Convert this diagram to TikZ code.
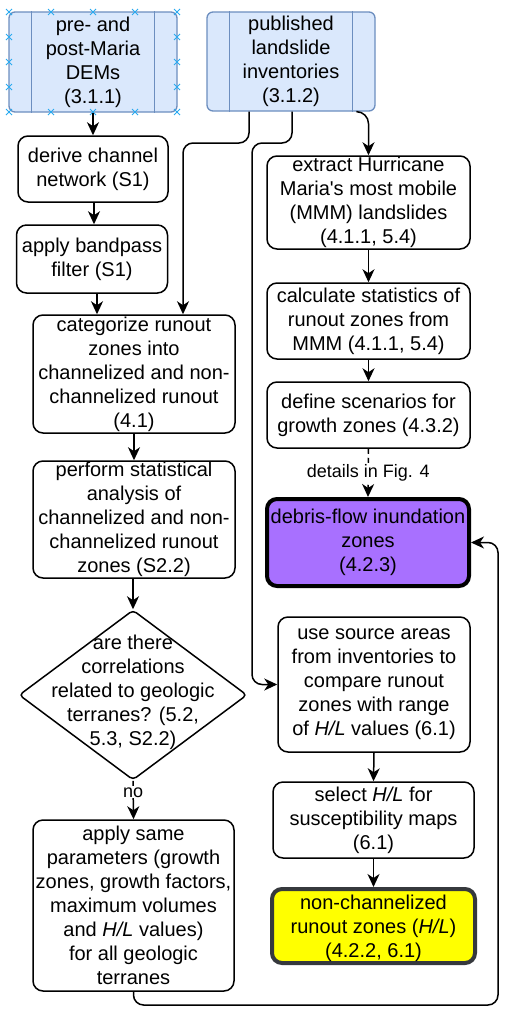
\documentclass[tikz,border=0pt]{standalone}
\usepackage{fontspec}
\setmainfont{Liberation Sans}
\usetikzlibrary{arrows.meta,shapes.geometric}
\definecolor{procfill}{HTML}{DAE8FC}
\definecolor{procline}{HTML}{6C8EBF}
\definecolor{handle}{RGB}{41,170,240}
\definecolor{purplefill}{RGB}{168,112,255}
\definecolor{yellowfill}{RGB}{255,255,0}
\definecolor{darkline}{HTML}{36393D}
\tikzset{
  box/.style={draw=black, line width=1.5pt, rounded corners=10pt, fill=white, inner sep=0pt},
  proc/.style={draw=procline, fill=procfill, line width=1.3pt, rounded corners=6pt, inner sep=0pt},
  txt/.style={align=center, inner sep=0pt, font=\fontsize{20}{24}\selectfont},
  lbl/.style={fill=white, inner sep=1pt, font=\fontsize{18}{21}\selectfont},
  arr/.style={line width=1.5pt, -{Stealth[length=13pt,width=12pt,inset=4pt]}},
  mk/.style={draw=handle, line width=0.9pt},
}
\begin{document}
\begin{tikzpicture}[x=1pt,y=-1pt]
\useasboundingbox (0,0) rectangle (504,1009);

% data sources
\node[proc, minimum width=168pt, minimum height=100pt] (dem) at (93,62) {};
\node[proc, minimum width=168pt, minimum height=99pt] (inv) at (291,61.5) {};
\foreach \n in {dem,inv} {
  \draw[procline, line width=1.3pt] ([xshift=23pt]\n.north west) -- ([xshift=23pt]\n.south west);
  \draw[procline, line width=1.3pt] ([xshift=-23pt]\n.north east) -- ([xshift=-23pt]\n.south east);
}
\node[txt] at (dem) {pre- and\\post-Maria\\DEMs\\(3.1.1)};
\node[txt] at (inv) {published\\landslide\\inventories\\(3.1.2)};

% selection handles round the DEM box
\foreach \x in {9,51,93,135,177} {
  \draw[mk] (\x,12) +(-3,-3) -- +(3,3) +(-3,3) -- +(3,-3);
  \draw[mk] (\x,112) +(-3,-3) -- +(3,3) +(-3,3) -- +(3,-3);
}
\foreach \y in {37,62,87} {
  \draw[mk] (9,\y) +(-3,-3) -- +(3,3) +(-3,3) -- +(3,-3);
  \draw[mk] (177,\y) +(-3,-3) -- +(3,3) +(-3,3) -- +(3,-3);
}

% left column
\node[box, minimum width=150pt, minimum height=66pt] (der) at (93,169) {};
\node[txt] at (der) {derive channel\\network (S1)};
\node[box, minimum width=151pt, minimum height=68pt] (bp) at (92,259) {};
\node[txt] at (bp) {apply bandpass\\filter (S1)};
\node[box, minimum width=202pt, minimum height=118pt] (cat) at (134,374) {};
\node[txt] at (cat) {categorize runout\\zones into\\channelized and non-\\channelized runout\\(4.1)};
\node[box, minimum width=202pt, minimum height=117pt] (perf) at (134,519.5) {};
\node[txt] at (perf) {perform statistical\\analysis of\\channelized and non-\\channelized runout\\zones (S2.2)};
\node[draw=black, line width=1.5pt, diamond, minimum width=228pt, minimum height=170pt, inner sep=0pt, rounded corners=4pt] (dia) at (133,695) {};
\node[txt] at (133,692) {are there\\correlations\\related to geologic\\terranes? (5.2,\\5.3, S2.2)};
\node[box, minimum width=201pt, minimum height=171pt] (app) at (133.5,905.5) {};
\node[txt] at (app) {apply same\\parameters (growth\\zones, growth factors,\\maximum volumes\\and \textit{H/L} values)\\for all geologic\\terranes};

% right column
\node[box, minimum width=203pt, minimum height=93pt] (ext) at (368.5,202.5) {};
\node[txt] at (ext) {extract Hurricane\\Maria\textquotesingle s most mobile\\(MMM) landslides\\(4.1.1, 5.4)};
\node[box, minimum width=203pt, minimum height=76pt] (calc) at (368.5,321) {};
\node[txt] at (calc) {calculate statistics of\\runout zones from\\MMM (4.1.1, 5.4)};
\node[box, minimum width=203pt, minimum height=66pt] (def) at (368.5,415) {};
\node[txt] at (def) {define scenarios for\\growth zones (4.3.2)};
\node[box, draw=black, line width=4pt, fill=purplefill, minimum width=202pt, minimum height=87pt] (deb) at (368,542.5) {};
\node[txt] at (deb) {debris-flow inundation\\zones\\(4.2.3)};
\node[box, minimum width=192pt, minimum height=135pt] (use) at (374,684.5) {};
\node[txt] at (use) {use source areas\\from inventories to\\compare runout\\zones with range\\of \textit{H/L} values (6.1)};
\node[box, minimum width=201pt, minimum height=76pt] (sel) at (373.5,820) {};
\node[txt] at (sel) {select \textit{H/L} for\\susceptibility maps\\(6.1)};
\node[box, draw=darkline, line width=4pt, fill=yellowfill, minimum width=203pt, minimum height=74pt] (yel) at (373.5,926) {};
\node[txt] at (373.5,928) {non-channelized\\runout zones (\textit{H/L})\\(4.2.2, 6.1)};

% bend points of the routed connectors
\coordinate (k1) at (183,143);
\coordinate (k2) at (252,143);
\coordinate (k3) at (498,1005);

% connectors
\draw[arr] (dem.south) -- (der.north);
\draw[arr] ([xshift=1pt]der.south) -- ([xshift=1pt]der.south |- bp.north);
\draw[arr] ([xshift=5pt]bp.south) -- ([xshift=5pt]bp.south |- cat.north);
\draw[arr] (cat.south) -- (perf.south |- perf.north);
\draw[arr] ([xshift=-1pt]perf.south) -- ([xshift=-1pt]perf.south |- dia.north);
\draw[arr] (dia.south) -- (app.north) node[lbl, pos=0.3] {no};
\draw[arr, rounded corners=10pt] ([xshift=-42pt]inv.south) |- (k1) -- (k1 |- cat.north);
\draw[arr, rounded corners=10pt] ([xshift=1pt]inv.south) |- (k2) -- (k2 |- use.west) -- (use.west);
\draw[arr, rounded corners=12pt] ([xshift=-18pt]inv.south east) -| (ext.north);
\draw[arr] (ext.south) -- (calc.north);
\draw[arr] (calc.south) -- (def.north);
\draw[arr, dash pattern=on 5pt off 4pt] (def.south) -- (deb.north) node[lbl, midway] {details in Fig. 4};
\draw[arr] (use.south) -- (sel.north);
\draw[arr] (sel.south) -- (yel.north);
\draw[arr, rounded corners=10pt] (app.south) |- (k3) -- (k3 |- deb.east) -- (deb.east);
\end{tikzpicture}
\end{document}
